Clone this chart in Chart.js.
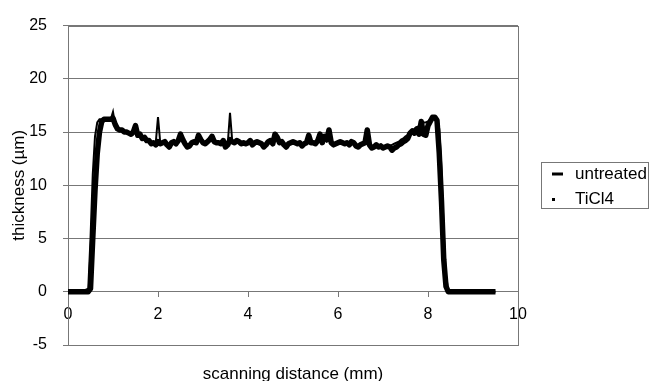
<!DOCTYPE html>
<html>
<head>
<meta charset="utf-8">
<script src="https://cdn.jsdelivr.net/npm/chart.js@4.4.1/dist/chart.umd.min.js"></script>
<style>
  html, body { margin: 0; padding: 0; background: #fff; }
  #wrap { width: 650px; height: 381px; }
</style>
</head>
<body>
<div id="wrap"><canvas id="chart" width="650" height="381"></canvas></div>
<script>
const FONT = "'Liberation Sans', Arial, sans-serif";

// scanning distance (mm)
const distance = [
  0, 0.15, 0.3, 0.45, 0.5, 0.55, 0.6, 0.65, 0.7, 0.75,
  0.8, 0.85, 0.9, 0.95, 1.0, 1.05, 1.1, 1.15, 1.2, 1.25,
  1.3, 1.35, 1.4, 1.45, 1.5, 1.55, 1.6, 1.65, 1.7, 1.75,
  1.8, 1.85, 1.9, 1.95, 2.0, 2.05, 2.1, 2.15, 2.2, 2.25,
  2.3, 2.35, 2.4, 2.45, 2.5, 2.55, 2.6, 2.65, 2.7, 2.75,
  2.8, 2.85, 2.9, 2.95, 3.0, 3.05, 3.1, 3.15, 3.2, 3.25,
  3.3, 3.35, 3.4, 3.45, 3.5, 3.55, 3.6, 3.65, 3.7, 3.75,
  3.8, 3.85, 3.9, 3.95, 4.0, 4.05, 4.1, 4.15, 4.2, 4.25,
  4.3, 4.35, 4.4, 4.45, 4.5, 4.55, 4.6, 4.65, 4.7, 4.75,
  4.8, 4.85, 4.9, 4.95, 5.0, 5.05, 5.1, 5.15, 5.2, 5.25,
  5.3, 5.35, 5.4, 5.45, 5.5, 5.55, 5.6, 5.65, 5.7, 5.75,
  5.8, 5.85, 5.9, 5.95, 6.0, 6.05, 6.1, 6.15, 6.2, 6.25,
  6.3, 6.35, 6.4, 6.45, 6.5, 6.55, 6.6, 6.65, 6.7, 6.75,
  6.8, 6.85, 6.9, 6.95, 7.0, 7.05, 7.1, 7.15, 7.2, 7.25,
  7.3, 7.35, 7.4, 7.45, 7.5, 7.55, 7.6, 7.65, 7.7, 7.75,
  7.8, 7.85, 7.9, 7.95, 8.0, 8.05, 8.1, 8.15, 8.2, 8.25,
  8.3, 8.35, 8.4, 8.45, 8.5, 8.75, 9.0, 9.25, 9.5
];

// thickness (um)
const untreated = [
  0, 0, 0, 0.3, 5.0, 11.0, 14.6, 15.9, 16.2, 16.2,
  16.2, 16.2, 16.2, 16.2, 16.9, 15.6, 15.4, 15.3, 15.1, 15.1,
  15.0, 14.9, 14.9, 14.8, 15.2, 14.7, 14.6, 14.5, 14.4, 14.3,
  14.2, 14.1, 14.0, 14.0, 16.4, 14.0, 13.9, 14.0, 13.9, 13.8,
  14.0, 14.1, 14.0, 14.1, 14.4, 14.2, 14.0, 13.8, 13.9, 14.0,
  14.1, 14.0, 14.4, 14.2, 14.0, 14.0, 14.1, 14.2, 14.4, 14.1,
  14.0, 14.0, 14.0, 14.1, 13.8, 13.9, 16.8, 14.1, 14.0, 14.1,
  14.0, 14.0, 14.0, 13.9, 14.0, 14.1, 13.9, 14.0, 14.0, 14.0,
  13.9, 13.8, 13.9, 14.0, 14.1, 14.0, 14.4, 14.3, 14.0, 14.0,
  13.9, 13.8, 13.9, 14.0, 14.0, 14.0, 13.9, 14.0, 13.9, 13.9,
  14.0, 14.4, 14.0, 14.0, 13.9, 14.1, 14.4, 14.0, 14.3, 14.1,
  14.5, 14.0, 13.9, 13.9, 14.0, 14.0, 14.0, 13.9, 14.0, 13.9,
  14.0, 14.0, 13.8, 13.8, 13.9, 13.9, 14.0, 14.5, 13.9, 13.7,
  13.7, 13.8, 13.7, 13.7, 13.6, 13.7, 13.7, 13.7, 13.8, 13.9,
  14.0, 14.1, 14.3, 14.4, 14.6, 14.7, 15.0, 15.1, 15.3, 15.4,
  15.6, 15.8, 15.9, 15.9, 16.0, 16.2, 16.3, 16.3, 16.2, 15.3,
  11.5, 5.5, 1.5, 0.2, 0, 0, 0, 0, 0
];

const ticl4 = [
  0, 0, 0, 0, 0.3, 5.0, 9.5, 13.0, 15.0, 16.0,
  16.2, 16.2, 16.2, 16.2, 16.3, 15.7, 15.3, 15.2, 15.2, 15.0,
  15.0, 14.9, 14.8, 15.0, 15.6, 14.7, 14.8, 14.4, 14.5, 14.2,
  14.2, 13.9, 14.0, 13.8, 14.1, 13.9, 14.0, 14.1, 13.8, 13.6,
  14.0, 14.1, 13.9, 14.2, 14.8, 14.3, 13.9, 13.6, 13.7, 14.0,
  14.1, 14.0, 14.7, 14.3, 14.0, 13.9, 14.1, 14.3, 14.6, 14.1,
  14.0, 14.0, 13.9, 14.2, 13.6, 13.8, 14.3, 14.1, 14.0, 14.2,
  14.1, 13.9, 14.0, 13.9, 14.0, 14.2, 13.8, 14.0, 14.1, 14.0,
  13.9, 13.6, 13.8, 14.1, 14.2, 13.9, 14.8, 14.5, 14.0, 14.1,
  13.8, 13.6, 13.9, 14.0, 14.1, 14.0, 13.9, 14.0, 13.7, 13.9,
  14.0, 14.7, 14.0, 14.0, 13.9, 14.2, 14.8, 14.0, 14.6, 14.3,
  15.2, 14.0, 13.8, 13.9, 14.0, 14.1, 14.0, 13.9, 14.0, 13.8,
  14.1, 14.0, 13.7, 13.6, 13.8, 13.9, 14.0, 15.2, 13.8, 13.5,
  13.6, 13.8, 13.6, 13.7, 13.5, 13.6, 13.7, 13.6, 13.3, 13.5,
  13.6, 13.8, 13.9, 14.1, 14.2, 14.4, 14.9, 15.1, 14.9, 15.3,
  14.8, 16.0, 14.8, 14.7, 15.6, 16.0, 16.4, 16.4, 16.1, 13.0,
  8.5, 3.0, 0.5, 0, 0, 0, 0, 0, 0
];

const xTickValues = [0, 2, 4, 6, 8, 10];
const yTickValues = [-5, 0, 5, 10, 15, 20, 25];
const seriesNames = ["untreated", "TiCl4"];

function toPoints(values) {
  return distance.map((d, i) => ({ x: d, y: values[i] }));
}

const framePlugin = {
  id: "frame",
  beforeDatasetsDraw(chart) {
    const { ctx, chartArea: a } = chart;
    ctx.save();
    ctx.strokeStyle = "#777";
    ctx.lineWidth = 1;
    ctx.strokeRect(Math.round(a.left) + 0.5, Math.round(a.top) + 0.5,
      Math.round(a.right - a.left), Math.round(a.bottom - a.top));
    ctx.restore();
  },
};

const legendPlugin = {
  id: "boxLegend",
  afterDraw(chart) {
    const { ctx, chartArea: a } = chart;
    const left = Math.round(a.right) + 23;
    const mid = Math.round((a.top + a.bottom) / 2);
    const top = mid - 23;
    ctx.save();
    ctx.strokeStyle = "#777";
    ctx.lineWidth = 1;
    ctx.strokeRect(left + 0.5, top + 0.5, 649 - left - 1, 46);
    ctx.fillStyle = "#000";
    ctx.strokeStyle = "#000";
    ctx.lineWidth = 3;
    ctx.beginPath();
    ctx.moveTo(left + 11, top + 12);
    ctx.lineTo(left + 22, top + 12);
    ctx.stroke();
    ctx.fillRect(left + 11, top + 36, 3, 3);
    ctx.font = "17px " + FONT;
    ctx.textBaseline = "middle";
    ctx.fillText(seriesNames[0], left + 34, top + 12);
    ctx.fillText(seriesNames[1], left + 34, top + 37);
    ctx.restore();
  },
};

new Chart(document.getElementById("chart"), {
  type: "line",
  data: {
    datasets: [
      {
        label: seriesNames[0],
        data: toPoints(untreated),
        borderColor: "#000",
        borderWidth: 2,
        pointRadius: 0,
        order: 1,
      },
      {
        label: seriesNames[1],
        data: toPoints(ticl4),
        borderColor: "#000",
        borderWidth: 5.5,
        borderJoinStyle: "round",
        pointRadius: 0,
        order: 2,
      },
    ],
  },
  options: {
    responsive: false,
    animation: false,
    events: [],
    layout: { padding: { top: 20, right: 132, bottom: 0, left: 0 } },
    plugins: {
      legend: { display: false },
      tooltip: { enabled: false },
    },
    scales: {
      x: {
        type: "linear",
        min: 0,
        max: 10,
        position: { y: 0 },
        afterBuildTicks: (scale) => {
          scale.ticks = xTickValues.map((v) => ({ value: v }));
        },
        grid: { drawOnChartArea: false, drawTicks: true, tickLength: 5, color: "#777" },
        border: { display: true, color: "#777" },
        ticks: { color: "#000", font: { family: FONT, size: 16 }, padding: 8, maxRotation: 0, autoSkip: false },
      },
      xTitle: {
        type: "linear",
        axis: "x",
        min: 0,
        max: 10,
        position: "bottom",
        ticks: { display: false },
        grid: { display: false },
        border: { display: false },
        afterFit: (scale) => { scale.height = 36; },
        title: {
          display: true,
          text: "scanning distance (mm)",
          color: "#000",
          font: { family: FONT, size: 17 },
          padding: { top: 0, bottom: -4 },
        },
      },
      y: {
        min: -5,
        max: 25,
        afterBuildTicks: (scale) => {
          scale.ticks = yTickValues.map((v) => ({ value: v }));
        },
        afterFit: (scale) => { scale.width = 68; },
        grid: { color: "#777", tickLength: 5 },
        border: { display: true, color: "#777" },
        ticks: { color: "#000", font: { family: FONT, size: 16 }, padding: 16 },
        title: {
          display: true,
          text: "thickness (µm)",
          color: "#000",
          font: { family: FONT, size: 17 },
          padding: { top: 9, bottom: 0 },
        },
      },
    },
  },
  plugins: [framePlugin, legendPlugin],
});
</script>
</body>
</html>
